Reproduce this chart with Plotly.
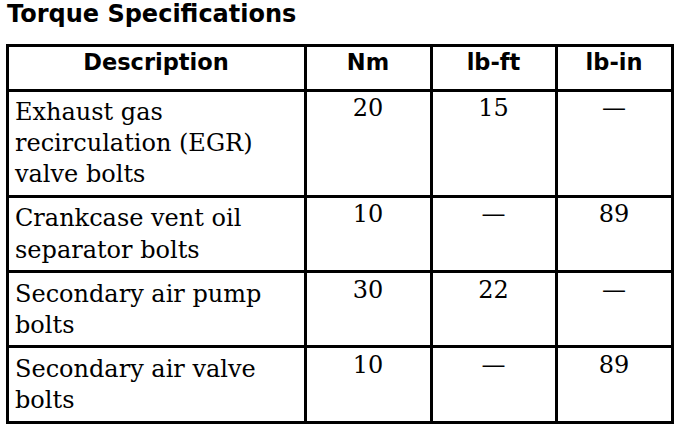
import plotly.graph_objects as go

# table content
header = ["Description", "Nm", "lb-ft", "lb-in"]
descriptions = [
    "Exhaust gas<br>recirculation (EGR)<br>valve bolts",
    "Crankcase vent oil<br>separator bolts",
    "Secondary air pump<br>bolts",
    "Secondary air valve<br>bolts",
]
nm = ["20", "10", "30", "10"]
lb_ft = ["15", "—", "22", "—"]
lb_in = ["—", "89", "—", "89"]

W, H = 688, 430

fig = go.Figure(go.Table(
    domain=dict(x=[7 / W, 672 / W], y=[0, 1 - 45 / H]),
    columnwidth=[298, 126, 125, 116],
    header=dict(values=header,
                align="center",
                height=45,
                font=dict(family="DejaVu Sans", size=22.5, color="black", weight="bold"),
                fill_color="white",
                line=dict(color="black", width=3)),
    cells=dict(values=[descriptions, nm, lb_ft, lb_in],
               align=["left", "center", "center", "center"],
               height=30,
               font=dict(family="DejaVu Serif", size=24, color="black"),
               fill_color="white",
               line=dict(color="black", width=3)),
))

fig.add_annotation(text="<b>Torque Specifications</b>", xref="paper", yref="paper",
                   x=5 / W, y=1 - 14 / H, xanchor="left", yanchor="middle", showarrow=False,
                   font=dict(family="DejaVu Sans", size=24, color="black"))

fig.update_layout(width=W, height=H, margin=dict(l=0, r=0, t=0, b=0),
                  paper_bgcolor="white", plot_bgcolor="white")
# drop the browser's default 8px body margin so the page lines up with the window
fig.write_html("out.html", config={"displayModeBar": False},
               post_script="document.body.style.margin='0';")
